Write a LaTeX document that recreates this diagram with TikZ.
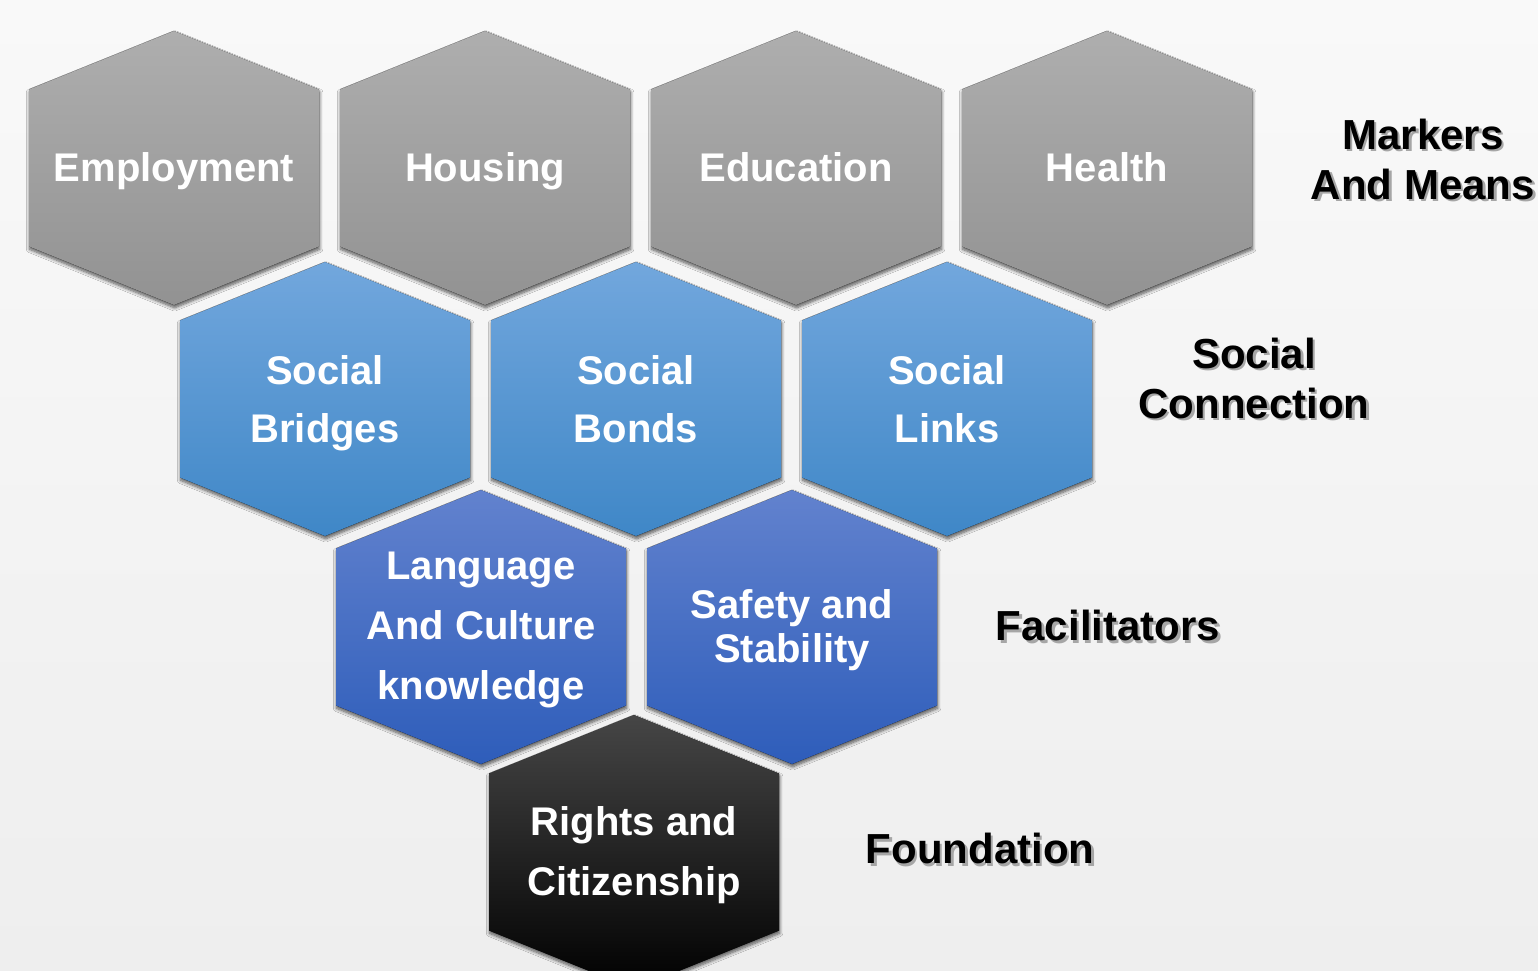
\documentclass[tikz,border=0pt]{standalone}
\usepackage{fontspec}
\setmainfont{Liberation Sans}
\usetikzlibrary{shadows.blur}

\definecolor{bgtop}{HTML}{F9F9F9}
\definecolor{bgbottom}{HTML}{EEEEEE}
\definecolor{greytop}{HTML}{AEAEAE}
\definecolor{greybottom}{HTML}{929292}
\definecolor{bluetop}{HTML}{72A7DD}
\definecolor{bluebottom}{HTML}{3F87C7}
\definecolor{royaltop}{HTML}{6282CE}
\definecolor{royalbottom}{HTML}{2E5DBA}
\definecolor{blacktop}{HTML}{464646}

% grey shadow copy behind black label text
\newcommand{\shtext}[1]{\makebox[0pt][l]{\smash{\raisebox{-1.2pt}{\hspace{1.2pt}\textcolor{black!35}{#1}}}}#1}

\tikzset{
  hexpath/.style={insert path={+(0,-137) -- +(145,-78.5) -- +(145,78.5) -- +(0,137) -- +(-145,78.5) -- +(-145,-78.5) -- cycle}},
  hexshadow/.style={blur shadow={shadow xshift=0.3pt, shadow yshift=-1.4pt, shadow blur radius=1.6pt, shadow blur steps=8, shadow opacity=65}},
  greyhex/.style={hexshadow, top color=greytop, bottom color=greybottom},
  bluehex/.style={hexshadow, top color=bluetop, bottom color=bluebottom},
  royalhex/.style={hexshadow, top color=royaltop, bottom color=royalbottom},
  blackhex/.style={hexshadow, top color=blacktop, middle color=black, bottom color=black},
  celltext/.style={text=white, align=center, font=\fontsize{20}{30}\selectfont\bfseries},
  oneline/.style={text height=14.6pt, text depth=4.2pt},
  layertext/.style={text=black, align=center, font=\fontsize{21}{25}\selectfont\bfseries},
}

\begin{document}
\begin{tikzpicture}[x=0.5pt, y=-0.5pt]

    % Page
    \useasboundingbox (0,0) rectangle (1538,970);
    \clip (0,0) rectangle (1538,970);
    \shade[top color=bgtop, bottom color=bgbottom] (0,0) rectangle (1538,970);

    % Hexagons for the first row
    \fill[greyhex] (174,168) [hexpath];
    \fill[greyhex] (485,168) [hexpath];
    \fill[greyhex] (796,168) [hexpath];
    \fill[greyhex] (1107,168) [hexpath];

    % Hexagons for the second row
    \fill[bluehex] (325,399) [hexpath];
    \fill[bluehex] (636,399) [hexpath];
    \fill[bluehex] (947,399) [hexpath];

    % Hexagons for the third row
    \fill[royalhex] (481,627) [hexpath];
    \fill[royalhex] (792,627) [hexpath];

    % Hexagon at the bottom
    \fill[blackhex] (634,852) [hexpath];

    % Nodes for the first row
    \node at (174,171.3) (employment) [celltext, oneline] {Employment};
    \node at (485,171.3) (housing) [celltext, oneline] {Housing};
    \node at (796,171.3) (education) [celltext, oneline] {Education};
    \node at (1107,171.3) (health) [celltext, oneline] {Health};

    % Nodes for the second row
    \node at (325,403) (bridges) [celltext, font=\fontsize{20}{29}\selectfont\bfseries] {Social\\Bridges};
    \node at (636,399) (bonds) [celltext, font=\fontsize{20}{29}\selectfont\bfseries] {Social\\Bonds};
    \node at (947,399) (links) [celltext, font=\fontsize{20}{29}\selectfont\bfseries] {Social\\Links};

    % Nodes for the third row
    \node at (481,630.3) (language) [celltext] {Language\\And Culture\\knowledge};
    \node at (792,630.3) (safety) [celltext, font=\fontsize{20}{22}\selectfont\bfseries] {Safety and\\Stability};

    % Node at the bottom
    \node at (634,855.3) (rights) [celltext] {Rights and\\Citizenship};

    % Layer names on the right
    \node at (1423,159.5) (markers) [layertext] {\shtext{Markers}\\\shtext{And Means}};
    \node at (1254,378) (connection) [layertext] {\shtext{Social}\\\shtext{Connection}};
    \node at (1108,630) (facilitators) [layertext, text height=15.3pt, text depth=4.4pt] {\shtext{Facilitators}};
    \node at (980,853) (foundation) [layertext, text height=15.3pt, text depth=4.4pt] {\shtext{Foundation}};

\end{tikzpicture}
\end{document}
